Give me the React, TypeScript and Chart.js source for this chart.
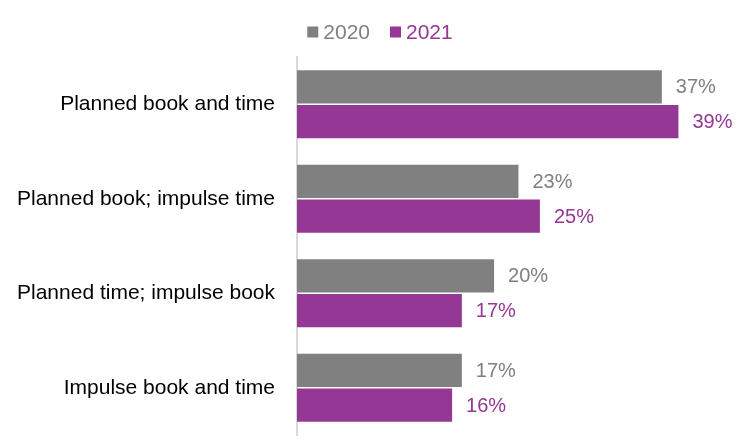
import { useEffect, useRef } from 'react';
import { Chart, registerables } from 'chart.js';

Chart.register(...registerables);

const categories = [
  'Planned book and time',
  'Planned book; impulse time',
  'Planned time; impulse book',
  'Impulse book and time',
];
const series2020 = [37.4, 22.7, 20.2, 16.9];
const series2021 = [39.1, 24.9, 16.9, 15.9];
const seriesNames = ['2020', '2021'];

const GRAY = '#808080';
const PURPLE = '#943795';
const FONT = "'Liberation Sans', 'Noto Sans', sans-serif";

// draws the "37%" style labels to the right of each bar
const valueLabels = {
  id: 'valueLabels',
  afterDatasetsDraw(chart: Chart) {
    const ctx = chart.ctx;
    ctx.save();
    ctx.textBaseline = 'middle';
    ctx.textAlign = 'left';
    chart.data.datasets.forEach((ds, i) => {
      const meta = chart.getDatasetMeta(i);
      ctx.fillStyle = ds.backgroundColor as string;
      ctx.font = `20px ${FONT}`;
      meta.data.forEach((bar, j) => {
        const v = ds.data[j] as number;
        ctx.fillText(`${Math.round(v)}%`, bar.x + 14, bar.y + 1);
      });
    });
    ctx.restore();
  },
};

// compact legend: small square, short gap, coloured text (like the office chart)
const topLegend = {
  id: 'topLegend',
  afterDraw(chart: Chart) {
    const ctx = chart.ctx;
    const box = 11, gap = 5, spacing = 20, cy = 32;
    ctx.save();
    ctx.font = `21px ${FONT}`;
    ctx.textBaseline = 'middle';
    ctx.textAlign = 'left';
    const items = chart.data.datasets.map((ds) => ({
      text: ds.label as string,
      color: ds.backgroundColor as string,
      w: ctx.measureText(ds.label as string).width,
    }));
    const total = items.reduce((s, it) => s + box + gap + it.w, 0) + spacing * (items.length - 1);
    // legend sits a touch right of the page centre
    let x = chart.width / 2 + 4 - total / 2;
    items.forEach((it) => {
      ctx.fillStyle = it.color;
      ctx.fillRect(x, cy - box / 2, box, box);
      x += box + gap;
      ctx.fillText(it.text, x, cy + 1);
      x += it.w + spacing;
    });
    ctx.restore();
  },
};

export default function App() {
  const canvasRef = useRef<HTMLCanvasElement>(null);

  useEffect(() => {
    document.body.style.margin = '0';
    if (!canvasRef.current) return;
    const chart = new Chart(canvasRef.current, {
      type: 'bar',
      data: {
        labels: categories,
        datasets: [
          { label: seriesNames[0], data: series2020, backgroundColor: GRAY },
          { label: seriesNames[1], data: series2021, backgroundColor: PURPLE },
        ],
      },
      options: {
        indexAxis: 'y',
        animation: false,
        responsive: true,
        maintainAspectRatio: false,
        layout: { padding: { top: 0, bottom: 0, right: 16, left: 0 } },
        datasets: { bar: { categoryPercentage: 0.74, barPercentage: 0.95 } },
        plugins: {
          tooltip: { enabled: false },
          legend: { display: false },
        },
        scales: {
          x: {
            display: false,
            min: 0,
            max: 45,
          },
          y: {
            grid: { display: false, drawTicks: false },
            border: { color: '#d9d9d9', width: 2 },
            ticks: {
              color: '#000',
              padding: 22,
              font: { family: FONT, size: 21 },
            },
            afterFit: (scale: any) => {
              scale.width = 297;
              scale.paddingTop = 57;
              scale.paddingBottom = 8;
            },
          },
        },
      },
      plugins: [valueLabels, topLegend],
    });
    return () => chart.destroy();
  }, []);

  return (
    <div style={{ width: 752, height: 443 }}>
      <canvas ref={canvasRef} />
    </div>
  );
}
